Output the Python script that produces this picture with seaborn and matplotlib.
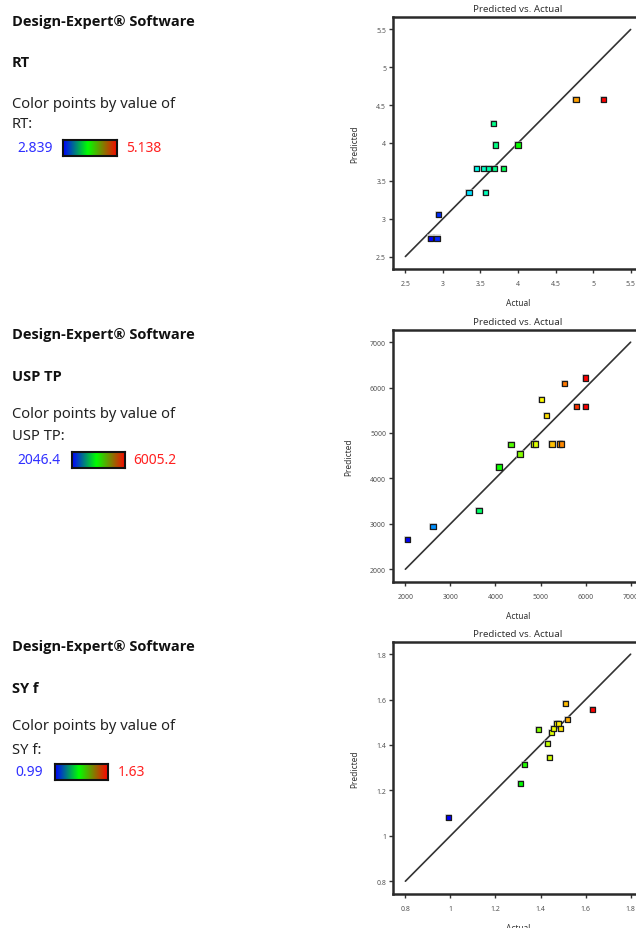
import numpy as np
import pandas as pd
import matplotlib
matplotlib.use("Agg")
import matplotlib.pyplot as plt
from matplotlib.colors import LinearSegmentedColormap, Normalize
import seaborn as sns

# ---- data: actual vs. predicted for the three responses ----
rt_actual = [2.839, 2.92, 2.944, 3.348, 3.45, 3.543, 3.61, 3.69, 3.805, 3.57, 3.676, 3.698, 4.0, 4.772, 5.138]
rt_pred = [2.743, 2.743, 3.052, 3.343, 3.66, 3.66, 3.66, 3.66, 3.66, 3.343, 4.26, 3.974, 3.974, 4.574, 4.574]
rt_range = (2.839, 5.138)

tp_actual = [2046.4, 2614, 3635, 4079, 4345, 4544, 4848, 4890, 5025, 5136, 5254, 5425, 5470, 5528, 5802, 6005.2, 6005.2]
tp_pred = [2654, 2941, 3287, 4250, 4743, 4537, 4757, 4757, 5735, 5390, 4757, 4757, 4757, 6088, 5588, 5588, 6213]
tp_range = (2046.4, 6005.2)

sy_actual = [0.99, 1.31, 1.33, 1.39, 1.43, 1.44, 1.449, 1.459, 1.47, 1.48, 1.487, 1.51, 1.52, 1.63]
sy_pred = [1.082, 1.231, 1.315, 1.469, 1.407, 1.346, 1.454, 1.474, 1.494, 1.494, 1.474, 1.582, 1.513, 1.557]
sy_range = (0.99, 1.63)

names = ["RT", "USP TP", "SY f"]
range_labels = [("2.839", "5.138"), ("2046.4", "6005.2"), ("0.99", "1.63")]
axis_limits = [(2.5, 5.5), (2000, 7000), (0.8, 1.8)]
tick_values = [
    [2.5, 3, 3.5, 4, 4.5, 5, 5.5],
    [2000, 3000, 4000, 5000, 6000, 7000],
    [0.8, 1, 1.2, 1.4, 1.6, 1.8],
]
tick_labels = [
    ["2.5", "3", "3.5", "4", "4.5", "5", "5.5"],
    ["2000", "3000", "4000", "5000", "6000", "7000"],
    ["0.8", "1", "1.2", "1.4", "1.6", "1.8"],
]

sns.set_style("white")
plt.rcParams["font.family"] = ["Noto Sans", "DejaVu Sans"]
HEAD_FONT = ["Open Sans", "DejaVu Sans"]

W, H = 636, 929
fig = plt.figure(figsize=(W / 100, H / 100), dpi=100)


def fx(x):
    return x / W


def fy(y):
    return 1 - y / H


# point colouring (rainbow) and legend bar colouring
point_cmap = LinearSegmentedColormap.from_list(
    "pts", ["#0000ff", "#00ffff", "#00ff00", "#ffff00", "#ff0000"])
bar_cmap = LinearSegmentedColormap.from_list(
    "bar", [(0.0, "#0000ff"), (0.45, "#00ff00"), (1.0, "#ff0000")])

panels = [
    (rt_actual, rt_pred, rt_range),
    (tp_actual, tp_pred, tp_range),
    (sy_actual, sy_pred, sy_range),
]

# vertical layout of each block (pixel rows)
text_rows = [
    dict(head=22, name=63, color=104, name2=125, legend=149),
    dict(head=335, name=377, color=415, name2=437, legend=461),
    dict(head=647, name=689, color=727, name2=750, legend=773),
]
legend_x = [(17, 63, 117, 126), (17, 72, 125, 133), (15, 55, 108, 118)]
axes_top = [18, 330.7, 642.7]

for i, (act, pred, crange) in enumerate(panels):
    rows = text_rows[i]
    fig.text(fx(12), fy(rows["head"]), "Design-Expert\u00ae Software",
             fontsize=10.5, fontweight="bold", family=HEAD_FONT,
             va="center", ha="left", color="#111111")
    fig.text(fx(12), fy(rows["name"]), names[i],
             fontsize=10.5, fontweight="bold", family=HEAD_FONT,
             va="center", ha="left", color="#111111")
    fig.text(fx(12), fy(rows["color"]), "Color points by value of",
             fontsize=10.6, va="center", ha="left", color="#222222")
    fig.text(fx(12), fy(rows["name2"]), names[i] + ":",
             fontsize=10.6, va="center", ha="left", color="#222222")

    lx0, bx0, bx1, rx0 = legend_x[i]
    fig.text(fx(lx0), fy(rows["legend"]), range_labels[i][0],
             fontsize=10, va="center", ha="left", color="#3030ff")
    fig.text(fx(rx0), fy(rows["legend"]), range_labels[i][1],
             fontsize=10, va="center", ha="left", color="#ff2020")
    cax = fig.add_axes([fx(bx0), fy(rows["legend"] + 8), (bx1 - bx0) / W, 16 / H])
    cax.imshow(np.linspace(0, 1, 256)[None, :], aspect="auto", cmap=bar_cmap)
    cax.set_xticks([])
    cax.set_yticks([])
    for sp in cax.spines.values():
        sp.set_visible(True)
        sp.set_linewidth(1.5)
        sp.set_color("#111111")

    # predicted vs actual panel
    lo, hi = axis_limits[i]
    pad = 0.055 * (hi - lo)
    top = axes_top[i]
    ax = fig.add_axes([fx(393), fy(top + 252), 250 / W, 252 / H])
    ax.set_xlim(lo - pad, hi + pad)
    ax.set_ylim(lo - pad, hi + pad)

    ax.plot([lo, hi], [lo, hi], color="#333333", lw=1.2, zorder=2)

    df = pd.DataFrame({"Actual": act, "Predicted": pred})
    sns.scatterplot(data=df, x="Actual", y="Predicted", ax=ax, marker="s",
                    s=28, color="#c4c4c4", edgecolor="none", alpha=0.55,
                    legend=False, zorder=3)
    sns.scatterplot(data=df, x="Actual", y="Predicted", hue="Actual", ax=ax,
                    marker="s", s=14, palette=point_cmap,
                    hue_norm=Normalize(*crange), edgecolor="#1a1a1a",
                    linewidth=0.9, legend=False, zorder=4)

    ax.set_xticks(tick_values[i])
    ax.set_xticklabels(tick_labels[i])
    ax.set_yticks(tick_values[i])
    ax.set_yticklabels(tick_labels[i])
    ax.tick_params(axis="both", direction="out", length=3, width=1,
                   color="#333333", labelsize=5, labelcolor="#555555", pad=2)
    ax.tick_params(axis="x", pad=5)
    ax.xaxis.set_ticks_position("bottom")
    ax.yaxis.set_ticks_position("left")
    for sp in ax.spines.values():
        sp.set_visible(True)
        sp.set_linewidth(1.8)
        sp.set_color("#2a2a2a")

    ax.set_title("Predicted vs. Actual", fontsize=7, color="#333333", pad=4)
    ax.set_xlabel("Actual", fontsize=6, color="#333333", labelpad=8)
    ax.set_ylabel("Predicted", fontsize=6, color="#333333", labelpad=12)

fig.savefig("out.png", dpi=100)
